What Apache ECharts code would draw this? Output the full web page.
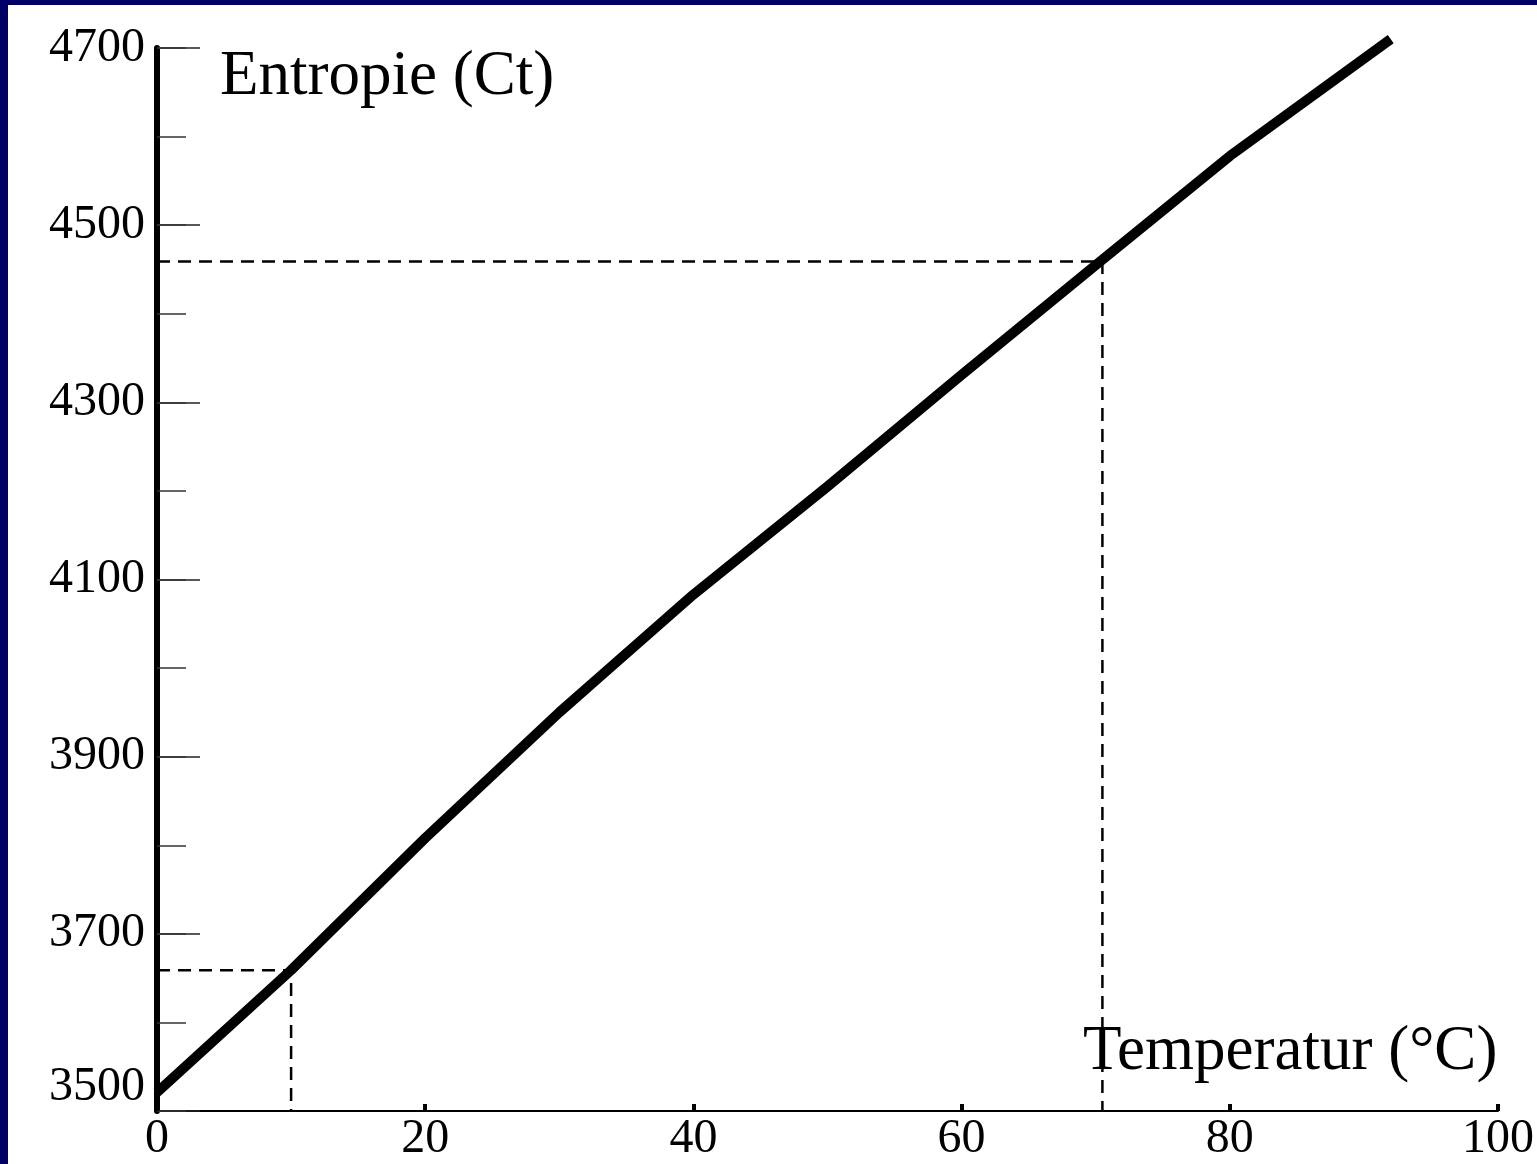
<!DOCTYPE html>
<html>
<head>
<meta charset="utf-8">
<script src="https://cdn.jsdelivr.net/npm/echarts@6/dist/echarts.min.js"></script>
<style>
html,body{margin:0;padding:0;background:#fff;overflow:hidden;width:100%;height:100%;}
#chart{position:absolute;left:0;top:0;width:1537px;height:1164px;}
</style>
</head>
<body>
<div id="chart"></div>
<script>
// Data
const temperature = [0, 10, 20, 30, 33, 40, 50, 60, 70, 80, 92];
const entropy = [3521, 3659, 3808, 3950, 3990, 4083, 4205, 4331, 4455, 4578, 4710];
const guideHigh = [[0, 4459], [70.5, 4459], [70.5, 3500]];
const guideLow = [[0, 3659], [10, 3659], [10, 3500]];
const yMajorTicks = [3500, 3700, 3900, 4100, 4300, 4500, 4700];
const xTicks = [0, 20, 40, 60, 80, 100];
const yTitle = 'Entropie (Ct)';
const xTitle = 'Temperatur (°C)';

const serif = '"Liberation Serif", "DejaVu Serif", serif';
const chart = echarts.init(document.getElementById('chart'), null, { width: 1537, height: 1164 });
const gridLeft = 157, gridTop = 48, gridRight = 25, gridBottom = 53;

chart.setOption({
  backgroundColor: '#ffffff',
  animation: false,
  grid: { left: gridLeft, top: gridTop, right: gridRight, bottom: gridBottom, containLabel: false },
  graphic: [
    { type: 'rect', left: 0, top: 0, shape: { width: 8, height: 1164 }, style: { fill: '#000066' }, z: 100 },
    { type: 'rect', left: 0, top: 0, shape: { width: 1537, height: 5 }, style: { fill: '#000066' }, z: 100 },
    { type: 'text', left: 220, top: 46, style: { text: yTitle, font: '63px ' + serif, fill: '#000' }, z: 50 },
    { type: 'text', left: 1083, top: 1021, style: { text: xTitle, font: '63px ' + serif, fill: '#000' }, z: 50 }
  ],
  xAxis: {
    type: 'value', min: 0, max: 100, interval: 20,
    axisLine: { show: true, onZero: false, lineStyle: { color: '#000', width: 2 } },
    axisTick: { show: true, inside: true, length: 7, lineStyle: { color: '#000', width: 4 } },
    axisLabel: {
      show: true, margin: 4, color: '#000', fontFamily: serif, fontSize: 48,
      customValues: xTicks, formatter: v => String(v)
    },
    splitLine: { show: false }
  },
  yAxis: [
    {
      type: 'value', min: 3500, max: 4700,
      axisLine: { show: true, onZero: false, lineStyle: { color: '#000', width: 6 } },
      axisTick: { show: true, inside: true, length: 43, customValues: yMajorTicks, lineStyle: { color: '#222', width: 1.5 } },
      axisLabel: {
        show: true, margin: 12, color: '#000', fontFamily: serif, fontSize: 48,
        customValues: yMajorTicks, verticalAlignMinLabel: 'bottom', formatter: v => String(v)
      },
      splitLine: { show: false }
    },
    {
      type: 'value', min: 3500, max: 4700, interval: 100, position: 'left',
      axisLine: { show: false },
      axisTick: { show: true, inside: true, length: 29, lineStyle: { color: '#333', width: 1.5 } },
      axisLabel: { show: false },
      splitLine: { show: false }
    }
  ],
  series: [
    {
      type: 'line', data: guideHigh, yAxisIndex: 0, symbol: 'none', silent: true,
      lineStyle: { color: '#000', width: 2.5, type: [13, 8] }, z: 2
    },
    {
      type: 'line', data: guideLow, yAxisIndex: 0, symbol: 'none', silent: true,
      lineStyle: { color: '#000', width: 2.5, type: [13, 8] }, z: 2
    },
    {
      type: 'line', data: temperature.map((t, i) => [t, entropy[i]]), yAxisIndex: 0,
      symbol: 'none', smooth: false, clip: false,
      lineStyle: { color: '#000', width: 10, cap: 'butt', join: 'round' }, z: 5
    }
  ]
});
</script>
</body>
</html>
